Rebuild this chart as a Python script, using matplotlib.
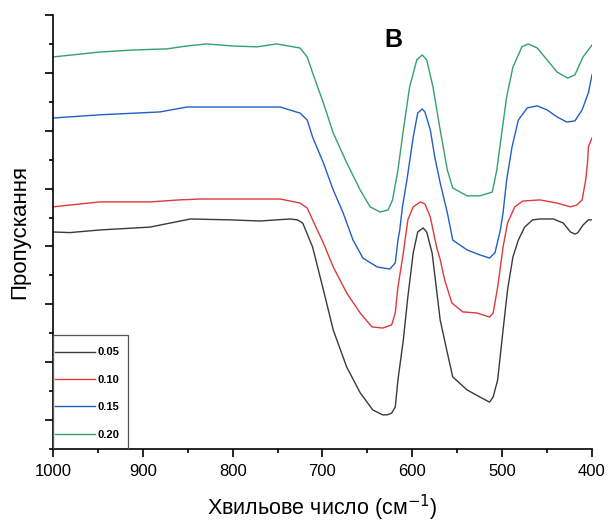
"""
FTIR transmittance spectra (panel B)
"""

import numpy as np
from matplotlib import pyplot as plt
from matplotlib.patches import Rectangle
from matplotlib.ticker import FixedLocator, MultipleLocator

plt.rcParams["font.family"] = ["Liberation Sans", "DejaVu Sans"]

labels = ["0.05", "0.10", "0.15", "0.20"]
colors = ["#3a3a3a", "#e0383c", "#2060c4", "#34a06c"]

wn_005 = [1000, 981, 948, 892, 847, 803, 770, 736, 728, 722, 711, 699, 688, 673,
          658, 644, 633, 628, 623, 619, 616, 610, 605, 599, 594, 588, 584, 578,
          573, 569, 561, 555, 539, 525, 514, 510, 505, 499, 494, 488, 482, 475,
          466, 458, 443, 432, 424, 419, 416, 410, 404, 400]
t_005 = [7.50, 7.48, 7.57, 7.67, 7.95, 7.92, 7.88, 7.95, 7.92, 7.81, 6.98, 5.50,
         4.11, 2.83, 1.94, 1.35, 1.18, 1.18, 1.24, 1.45, 2.39, 3.77, 5.25, 6.78,
         7.50, 7.64, 7.50, 6.78, 5.50, 4.46, 3.32, 2.49, 2.04, 1.80, 1.62, 1.80,
         2.39, 4.11, 5.50, 6.64, 7.22, 7.67, 7.92, 7.95, 7.95, 7.81, 7.50, 7.43,
         7.47, 7.74, 7.92, 7.92]

wn_010 = [1000, 948, 892, 859, 836, 800, 747, 725, 717, 711, 699, 688, 673, 658,
          645, 633, 623, 619, 616, 610, 605, 599, 591, 586, 580, 573, 569, 564,
          556, 544, 528, 514, 510, 505, 499, 494, 486, 477, 458, 439, 424, 417,
          411, 407, 405, 404, 400]
t_010 = [8.37, 8.54, 8.54, 8.61, 8.64, 8.64, 8.64, 8.50, 8.33, 7.92, 7.12, 6.29,
         5.39, 4.70, 4.22, 4.18, 4.29, 4.70, 5.60, 6.78, 7.92, 8.37, 8.54, 8.47,
         8.02, 6.98, 6.55, 5.84, 5.05, 4.74, 4.70, 4.56, 4.70, 5.60, 6.98, 7.81,
         8.37, 8.57, 8.61, 8.50, 8.37, 8.43, 8.61, 9.30, 9.90, 10.44, 10.75]

wn_015 = [1000, 948, 881, 851, 822, 781, 747, 725, 717, 711, 699, 688, 677, 666,
          655, 639, 625, 619, 616, 614, 611, 606, 599, 594, 589, 586, 580, 575,
          569, 561, 555, 539, 525, 514, 508, 502, 499, 495, 489, 482, 472, 461,
          450, 439, 428, 419, 411, 404, 400]
t_015 = [11.44, 11.55, 11.65, 11.82, 11.82, 11.82, 11.82, 11.61, 11.37, 10.78,
         9.89, 8.95, 8.16, 7.22, 6.60, 6.29, 6.22, 6.43, 7.22, 7.57, 8.37, 9.30,
         10.78, 11.61, 11.75, 11.65, 11.03, 10.09, 9.20, 8.16, 7.22, 6.88, 6.71,
         6.60, 6.78, 7.57, 8.16, 9.30, 10.44, 11.37, 11.79, 11.86, 11.72, 11.48,
         11.30, 11.34, 11.72, 12.31, 12.93]

wn_020 = [1000, 948, 911, 873, 851, 829, 800, 773, 751, 725, 717, 711, 699, 688,
          673, 658, 647, 636, 627, 622, 616, 610, 603, 595, 589, 584, 577, 569,
          561, 555, 539, 525, 511, 506, 500, 495, 488, 478, 471, 461, 450, 439,
          427, 419, 410, 400]
t_020 = [13.55, 13.72, 13.79, 13.83, 13.93, 14.00, 13.93, 13.90, 14.00, 13.86,
         13.55, 13.00, 11.96, 10.92, 9.89, 8.95, 8.37, 8.19, 8.26, 8.61, 9.64,
         11.03, 12.51, 13.45, 13.62, 13.45, 12.51, 11.03, 9.64, 9.02, 8.75, 8.75,
         8.88, 9.64, 11.03, 12.17, 13.20, 13.90, 14.00, 13.86, 13.45, 13.03,
         12.82, 12.93, 13.55, 13.96]

series = [(wn_005, t_005), (wn_010, t_010), (wn_015, t_015), (wn_020, t_020)]

fig = plt.figure(figsize=(6.11, 5.23), dpi=100)
ax = fig.add_axes([0.0867, 0.1415, 0.8822, 0.8298])

for (wn, t), lab, col in zip(series, labels, colors):
    ax.plot(wn, t, color=col, lw=1.0, label=lab)

ax.set_xlim(1000, 400)
ax.set_ylim(0, 15)
ax.xaxis.set_major_locator(MultipleLocator(100))
ax.xaxis.set_minor_locator(MultipleLocator(50))
ax.yaxis.set_major_locator(FixedLocator(np.arange(1, 16, 2)))
ax.yaxis.set_minor_locator(FixedLocator(np.arange(0, 15, 2)))
ax.set_yticklabels([])

for side in ("top", "right"):
    ax.spines[side].set_visible(False)
for side in ("left", "bottom"):
    ax.spines[side].set_linewidth(1.2)
ax.tick_params(which="major", direction="out", length=6, width=1.2, labelsize=12)
ax.tick_params(which="minor", direction="out", length=3, width=1.2)
ax.tick_params(axis="x", pad=5)

ax.set_xlabel("Хвильове число (см$^{-1}$)", fontsize=15.5, labelpad=10)
ax.set_ylabel("Пропускання", fontsize=16, labelpad=7)
ax.text(0.631, 0.942, "B", transform=ax.transAxes, fontsize=18,
        fontweight="bold", ha="center", va="center")

# legend entries without frame, the box is drawn separately
ax.legend(loc="lower left", bbox_to_anchor=(0, 0.016), borderaxespad=0,
          frameon=False, prop={"size": 8, "weight": "bold"}, handlelength=3.6,
          handletextpad=0.25, labelspacing=1.57, borderpad=0.2)
ax.add_patch(Rectangle((0, 0), 0.139, 0.263, transform=ax.transAxes,
                       fill=False, edgecolor="#555555", lw=0.9, zorder=5))

fig.savefig("out.png", dpi=100)
